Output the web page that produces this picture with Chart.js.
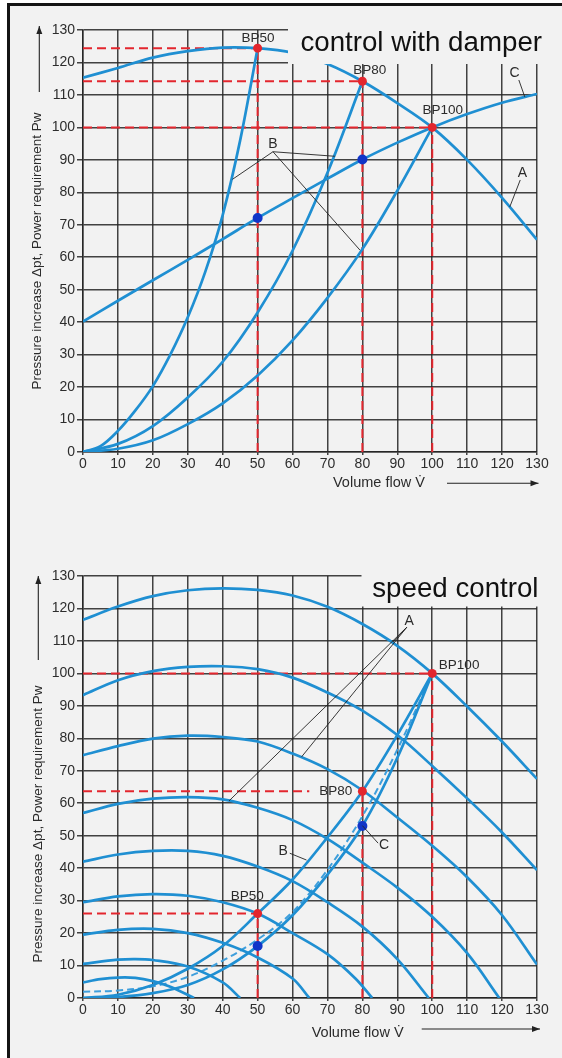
<!DOCTYPE html>
<html>
<head>
<meta charset="utf-8">
<script src="https://cdn.jsdelivr.net/npm/chart.js@4.4.1/dist/chart.umd.min.js"></script>
<style>
  html, body { margin: 0; padding: 0; background: #fff; overflow: hidden; }
  #frame { position: absolute; left: 7px; top: 3px; width: 600px; height: 1100px;
           border-left: 3px solid #141414; border-top: 3px solid #141414; background: #f2f2f2; }
  canvas { position: absolute; left: 0; }
  #damper { top: 0; }
  #speed { top: 529px; }
</style>
</head>
<body>
<div id="frame"></div>
<canvas id="damper" width="562" height="529"></canvas>
<canvas id="speed" width="562" height="529"></canvas>
<script>
// tick labels, same on both axes
const tickValues = [0, 10, 20, 30, 40, 50, 60, 70, 80, 90, 100, 110, 120, 130];

// --- control with damper ---
const damperFlow = [0, 10, 20, 30, 40, 50, 60, 70, 80, 90, 100, 110, 120, 130];
const damperFanA = [115.3, 118.3, 121.5, 123.5, 124.6, 124.4, 123, 119.5, 114.2, 107.5, 100, 90, 78.3, 65.4];
const damperPowerC = [40.2, 46.6, 52.9, 59.2, 65.6, 72.1, 78.2, 84.2, 90.1, 95.3, 100, 104.1, 107.6, 110.3];
const damperB50Flow = [0, 5, 10, 15, 20, 25, 30, 35, 40, 45, 50];
const damperB50 = [0, 1.8, 6.5, 12.8, 20.3, 30, 41.5, 55.5, 73, 96, 124.4];
const damperB80Flow = [0, 10, 20, 30, 40, 50, 60, 70, 80];
const damperB80 = [0, 2.5, 8, 16.8, 27.8, 43, 62, 86, 114.2];
const damperB100Flow = [0, 10, 20, 30, 40, 50, 60, 70, 80, 90, 100];
const damperB100 = [0, 1, 3.6, 8.6, 15, 23.6, 34.4, 47.5, 62.5, 80.5, 100];
const damperBPFlow = [50, 80, 100];
const damperBPPressure = [124.4, 114.2, 100];
const damperGuideEnd = [50, 80, 100];
const damperPowerFlow = [50, 80];
const damperPower = [72.1, 90.1];

// --- speed control ---
const speedFlow = [0, 10, 20, 30, 40, 50, 60, 70, 80, 90, 100, 110, 120, 130];
const speedFan100 = [116.5, 120.6, 123.8, 125.6, 126.2, 125.7, 124, 120.5, 115.2, 108.5, 100, 89.8, 79, 67.5];
const speedFan90 = [93.3, 97.9, 100.7, 102, 102.2, 101.3, 98.7, 94.1, 88.5, 81, 71.5, 61.5, 51, 39.4];
const speedFan80 = [74.8, 77.6, 79.9, 80.8, 80.4, 79, 75.3, 70.5, 64, 55.6, 46.9, 37.2, 25.5, 10.3];
const speedFan70Flow = [0, 10, 20, 30, 40, 50, 60, 70, 80, 90, 100, 110, 119.2];
const speedFan70 = [57, 59.8, 61.4, 61.9, 61.2, 58.6, 54.8, 49, 41.7, 34, 25, 13.8, 0];
const speedFan60Flow = [0, 10, 20, 30, 40, 50, 60, 70, 80, 90, 99];
const speedFan60 = [42, 44.2, 45.3, 45.3, 43.8, 40.5, 36, 29.5, 22, 12, 0];
const speedFan50Flow = [0, 10, 20, 30, 40, 50, 60, 70, 78, 82.8];
const speedFan50 = [29.5, 31.3, 32, 31.5, 29.5, 26, 20, 13.5, 6, 0];
const speedFan40Flow = [0, 10, 20, 30, 40, 50, 60, 64.8];
const speedFan40 = [19.5, 21, 21.3, 20, 17, 12.5, 6, 0];
const speedFan30Flow = [0, 10, 15, 20, 30, 40, 45];
const speedFan30 = [10.5, 11.8, 12, 11.7, 9.7, 4.8, 0];
const speedFan20Flow = [0, 5, 10, 15, 20, 25, 31.8];
const speedFan20 = [4.8, 5.8, 6.3, 6.2, 5.2, 3.5, 0];
const speedSysFlow = [0, 10, 20, 30, 40, 50, 60, 70, 80, 90, 100];
const speedSysB = [0, 1, 4, 9, 16, 26, 36.5, 49.5, 63.7, 81, 100];
const speedPowerC = [0, 0.3, 1.5, 4, 8.8, 16, 25.5, 38, 53, 74, 100];
const speedPowerDashed = [1.9, 2.3, 3.6, 6.5, 11.5, 18, 26.5, 39.5, 56, 76.5, 100];
const speedBPFlow = [50, 80, 100];
const speedBPPressure = [26, 63.7, 100];
const speedGuideEnd = [50, 64.8, 100];
const speedPowerFlow = [50, 80];
const speedPower = [16, 53];

const FONT = '"Liberation Sans", Arial, sans-serif';
const BLUE = '#1f8fd2';
const RED = '#e3262e';
Chart.defaults.font.family = FONT;

const pts = (xs, ys) => xs.map((x, i) => ({ x: x, y: ys[i] }));

function curve(xs, ys, dashed) {
  return {
    data: pts(xs, ys), borderColor: dashed ? '#3f9fdc' : BLUE, borderWidth: dashed ? 2 : 2.7,
    borderDash: dashed ? [7, 4] : [], pointRadius: 0, tension: 0.35, fill: false
  };
}

function guides(bx, by, ends) {
  const out = [];
  bx.forEach((x, i) => {
    out.push({ data: [{ x: 0, y: by[i] }, { x: ends[i], y: by[i] }] });
    out.push({ data: [{ x: x, y: 0 }, { x: x, y: by[i] }] });
  });
  return out.map(d => Object.assign(d, { borderColor: RED, borderWidth: 2, borderDash: [9, 5], pointRadius: 0, tension: 0 }));
}

function dots(xs, ys, color, r) {
  return { data: pts(xs, ys), showLine: false, pointRadius: r, pointBackgroundColor: color, pointBorderWidth: 0 };
}

function arrow(ctx, x1, y1, x2, y2) {
  const a = Math.atan2(y2 - y1, x2 - x1);
  ctx.beginPath(); ctx.moveTo(x1, y1); ctx.lineTo(x2, y2); ctx.stroke();
  ctx.beginPath();
  ctx.moveTo(x2, y2);
  ctx.lineTo(x2 - 8 * Math.cos(a) + 3 * Math.sin(a), y2 - 8 * Math.sin(a) - 3 * Math.cos(a));
  ctx.lineTo(x2 - 8 * Math.cos(a) - 3 * Math.sin(a), y2 - 8 * Math.sin(a) + 3 * Math.cos(a));
  ctx.closePath(); ctx.fill();
}

const overlay = {
  id: 'overlay',
  afterDatasetsDraw(chart, args, o) {
    const ctx = chart.ctx, b = o.titleBox;
    ctx.save();
    ctx.fillStyle = '#f2f2f2';
    ctx.fillRect(b[0], b[1], b[2] - b[0], b[3] - b[1]);
    ctx.fillStyle = '#111';
    ctx.font = '27.7px ' + FONT;
    ctx.textAlign = 'right';
    ctx.fillText(o.title, o.titlePos[0], o.titlePos[1]);
    ctx.restore();
  },
  afterDraw(chart, args, o) {
    const ctx = chart.ctx;
    const px = v => chart.scales.x.getPixelForValue(v);
    const py = v => chart.scales.y.getPixelForValue(v);
    ctx.save();
    ctx.strokeStyle = '#222';
    ctx.lineWidth = 0.9;
    o.leaders.forEach(l => {
      ctx.beginPath(); ctx.moveTo(px(l[0]), py(l[1])); ctx.lineTo(px(l[2]), py(l[3])); ctx.stroke();
    });
    ctx.fillStyle = '#2b2b2b';
    ctx.textAlign = 'center';
    ctx.textBaseline = 'middle';
    o.labels.forEach(l => {
      ctx.font = l[3] + 'px ' + FONT;
      ctx.fillText(l[0], px(l[1]), py(l[2]));
    });

    // axis titles
    ctx.font = '13.5px ' + FONT;
    ctx.save();
    ctx.translate(o.yTitle[0], o.yTitle[1]);
    ctx.rotate(-Math.PI / 2);
    ctx.fillText('Pressure increase \u0394pt, Power requirement Pw', 0, 0);
    ctx.restore();
    ctx.font = '14.5px ' + FONT;
    ctx.textAlign = 'left';
    ctx.textBaseline = 'alphabetic';
    ctx.fillText('Volume flow V\u0307', o.xTitle[0], o.xTitle[1]);

    ctx.strokeStyle = '#222';
    ctx.fillStyle = '#222';
    ctx.lineWidth = 1.1;
    arrow(ctx, o.yArrow[0], o.yArrow[1], o.yArrow[2], o.yArrow[3]);
    arrow(ctx, o.xArrow[0], o.xArrow[1], o.xArrow[2], o.xArrow[3]);
    ctx.restore();
  }
};

function options(plotTop, xAxisHeight, over) {
  const grid = { color: 'rgba(35,35,35,0.85)', lineWidth: 1.5 };
  return {
    responsive: false, animation: false,
    layout: { padding: { top: plotTop, right: 25, left: 0, bottom: 0 } },
    plugins: { legend: { display: false }, tooltip: { enabled: false }, overlay: over },
    scales: {
      x: {
        type: 'linear', min: 0, max: 130,
        afterBuildTicks: s => { s.ticks = tickValues.map(v => ({ value: v })); },
        afterFit: s => { s.height = xAxisHeight; },
        grid: Object.assign({ tickLength: 3 }, grid),
        border: { color: 'rgba(35,35,35,0.85)', width: 1.5 },
        ticks: { color: '#2d2d2d', font: { size: 14 }, padding: 1, autoSkip: false, maxRotation: 0 }
      },
      y: {
        type: 'linear', min: 0, max: 130,
        afterBuildTicks: s => { s.ticks = tickValues.map(v => ({ value: v })); },
        afterFit: s => { s.width = 83; },
        grid: Object.assign({ tickLength: 6 }, grid),
        border: { color: 'rgba(35,35,35,0.85)', width: 1.5 },
        ticks: { color: '#2d2d2d', font: { size: 14 }, padding: 2, autoSkip: false }
      }
    }
  };
}

new Chart(document.getElementById('damper'), {
  type: 'line',
  data: {
    datasets: [
      dots(damperBPFlow, damperBPPressure, RED, 4.5),
      dots(damperPowerFlow, damperPower, '#1035c8', 5),
      curve(damperFlow, damperFanA),
      curve(damperFlow, damperPowerC),
      curve(damperB50Flow, damperB50),
      curve(damperB80Flow, damperB80),
      curve(damperB100Flow, damperB100)
    ].concat(guides(damperBPFlow, damperBPPressure, damperGuideEnd))
  },
  options: options(30, 77, {
    title: 'control with damper', titleBox: [288, 26, 546, 64], titlePos: [542, 51],
    labels: [
      ['BP50', 50.1, 127.5, 13.5], ['BP80', 82.1, 117.7, 13.5], ['BP100', 103, 105.3, 13.5],
      ['C', 123.6, 116.8, 14], ['A', 125.8, 85.8, 14], ['B', 54.4, 94.9, 14]
    ],
    leaders: [
      [124.8, 114.6, 126.5, 109.4], [125.2, 83.8, 122.2, 75.5],
      [54.4, 92.5, 42.8, 84], [54.4, 92.5, 72.1, 91.1], [54.4, 92.5, 79.3, 62.2]
    ],
    yTitle: [37, 251], yArrow: [39.3, 92, 39.3, 26],
    xTitle: [333, 487], xArrow: [447, 483.3, 538.5, 483.3]
  }),
  plugins: [overlay]
});

new Chart(document.getElementById('speed'), {
  type: 'line',
  data: {
    datasets: [
      dots(speedBPFlow, speedBPPressure, RED, 4.5),
      dots(speedPowerFlow, speedPower, '#1035c8', 5),
      curve(speedFlow, speedFan100),
      curve(speedFlow, speedFan90),
      curve(speedFlow, speedFan80),
      curve(speedFan70Flow, speedFan70),
      curve(speedFan60Flow, speedFan60),
      curve(speedFan50Flow, speedFan50),
      curve(speedFan40Flow, speedFan40),
      curve(speedFan30Flow, speedFan30),
      curve(speedFan20Flow, speedFan20),
      curve(speedSysFlow, speedSysB),
      curve(speedSysFlow, speedPowerC),
      curve(speedSysFlow, speedPowerDashed, true)
    ].concat(guides(speedBPFlow, speedBPPressure, speedGuideEnd))
  },
  options: options(47, 60, {
    title: 'speed control', titleBox: [361.5, 40, 546, 77.5], titlePos: [538.5, 68],
    labels: [
      ['BP100', 107.7, 102.6, 13.5], ['BP80', 72.4, 63.8, 13.5], ['BP50', 47, 31.2, 13.5],
      ['B', 57.3, 45.1, 14], ['C', 86.2, 47.1, 14], ['A', 93.4, 116.2, 14]
    ],
    leaders: [
      [59.2, 44.6, 64, 42.5], [80, 53.1, 84.5, 47.7],
      [92.7, 114.2, 41.8, 60.7], [92.7, 114.2, 62.6, 74.3], [92.7, 114.2, 88.8, 109.7]
    ],
    yTitle: [38, 295], yArrow: [38.3, 131, 38.3, 47],
    xTitle: [311.7, 507.7], xArrow: [421.7, 500, 540, 500]
  }),
  plugins: [overlay]
});
</script>
</body>
</html>
